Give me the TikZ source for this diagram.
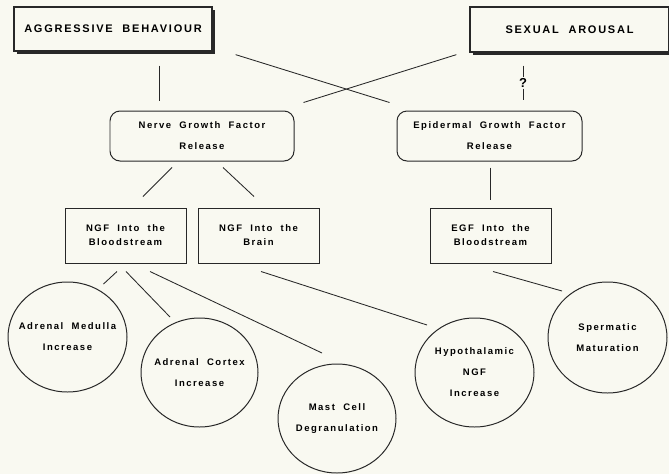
\documentclass[tikz,border=0pt]{standalone}
\usepackage{fontspec}
\newfontfamily\diafont[LetterSpace=16,WordSpace=2]{Liberation Sans}
\usetikzlibrary{positioning,calc,shapes.geometric,shadows}
\definecolor{paper}{RGB}{249,249,241}
\definecolor{ink}{RGB}{40,40,40}
\tikzset{
  cause/.style={draw=ink, line width=0.45mm, fill=paper, minimum width=198pt, minimum height=44pt,
    inner sep=0pt, font=\diafont\bfseries\fontsize{11}{12}\selectfont,
    drop shadow={shadow xshift=3pt, shadow yshift=-3pt, fill=ink, opacity=1}},
  release/.style={draw=ink, line width=0.35mm, rounded corners=10pt, minimum width=184pt, minimum height=50pt,
    inner sep=0pt, align=center, font=\diafont\bfseries\fontsize{9.5}{21}\selectfont},
  route/.style={draw=ink, line width=0.35mm, minimum width=121pt, minimum height=55pt,
    inner sep=0pt, align=center, font=\diafont\bfseries\fontsize{9.5}{14}\selectfont},
  effect/.style={draw=ink, line width=0.35mm, ellipse, inner sep=0pt},
  effecttext/.style={inner sep=0pt, align=center, font=\diafont\bfseries\fontsize{9.5}{21}\selectfont},
  link/.style={draw=ink, line width=0.3mm}
}

\begin{document}
\begin{tikzpicture}[x=1pt, y=-1pt]
    \fill[paper] (0,0) rectangle (669,474);
    \useasboundingbox (0,0) rectangle (669,474);

    % top row
    \node[cause] (ab) at (113,29) {AGGRESSIVE BEHAVIOUR};
    \node[cause, minimum width=199pt, minimum height=45pt] (sa) at (569.5,29.5) {SEXUAL AROUSAL};
    \node[font=\diafont\bfseries\fontsize{13}{14}\selectfont, inner sep=1pt] (q) at (523,83) {?};

    % growth factors
    \node[release] (ngfr) at (202,136) {Nerve Growth Factor\\Release};
    \node[release, minimum width=185pt] (egfr) at (489.5,136) {Epidermal Growth Factor\\Release};

    % where they go
    \node[route] (nb) at (125.5,235.5) {NGF Into the\\Bloodstream};
    \node[route, right=11pt of nb] (nbr) {NGF Into the\\Brain};
    \node[route] (eb) at (490.5,235.5) {EGF Into the\\Bloodstream};

    % effects
    \node[effect, minimum width=119pt, minimum height=110pt,
      label={[effecttext]center:Adrenal Medulla\\Increase}] (am) at (67.5,337) {};
    \node[effect, minimum width=117pt, minimum height=109pt,
      label={[effecttext]center:Adrenal Cortex\\Increase}] (ac) at (199.5,372.5) {};
    \node[effect, minimum width=118pt, minimum height=109pt,
      label={[effecttext]center:Mast Cell\\Degranulation}] (mc) at (337,418.5) {};
    \node[effect, minimum width=119pt, minimum height=109pt,
      label={[effecttext]center:Hypothalamic\\NGF\\Increase}] (hy) at (474.5,372.5) {};
    \node[effect, minimum width=119pt, minimum height=111pt,
      label={[effecttext]center:Spermatic\\Maturation}] (sp) at (607.5,337.5) {};

    \draw[link] ($(ab.south)+(46,14)$) -- ($(ngfr.north)+(-43,-10)$);
    \draw[link] ($(ab.south east)+(23,3)$) -- ($(egfr.north west)+(-7,-8)$);
    \draw[link] ($(sa.south west)+(-13,2)$) -- ($(ngfr.north east)+(9,-8)$);
    \draw[link] ($(sa.south)+(-46.5,13)$) -- (q);
    \draw[link] (q) -- ($(egfr.north)+(33.5,-11)$);

    \draw[link] ($(ngfr.south)+(-30,6)$) -- ($(nb.north)+(17.5,-11)$);
    \draw[link] ($(ngfr.south)+(21,6)$) -- ($(nbr.north)+(-4.5,-11)$);
    \draw[link] ($(egfr.south)+(0.5,6)$) -- ($(eb.north)+(-0.5,-8)$);

    \draw[link] ($(nb.south)+(-8.5,8)$) -- ($(am)+(36,-53)$);
    \draw[link] ($(nb.south)+(0.5,8)$) -- ($(ac)+(-29.5,-55.5)$);
    \draw[link] ($(nb.south)+(24.5,8)$) -- ($(mc)+(-15,-65.5)$);
    \draw[link] ($(nbr.south)+(2.5,8)$) -- ($(hy)+(-47.5,-47.5)$);
    \draw[link] ($(eb.south)+(2.5,8)$) -- ($(sp)+(-45.5,-46.5)$);
\end{tikzpicture}
\end{document}
